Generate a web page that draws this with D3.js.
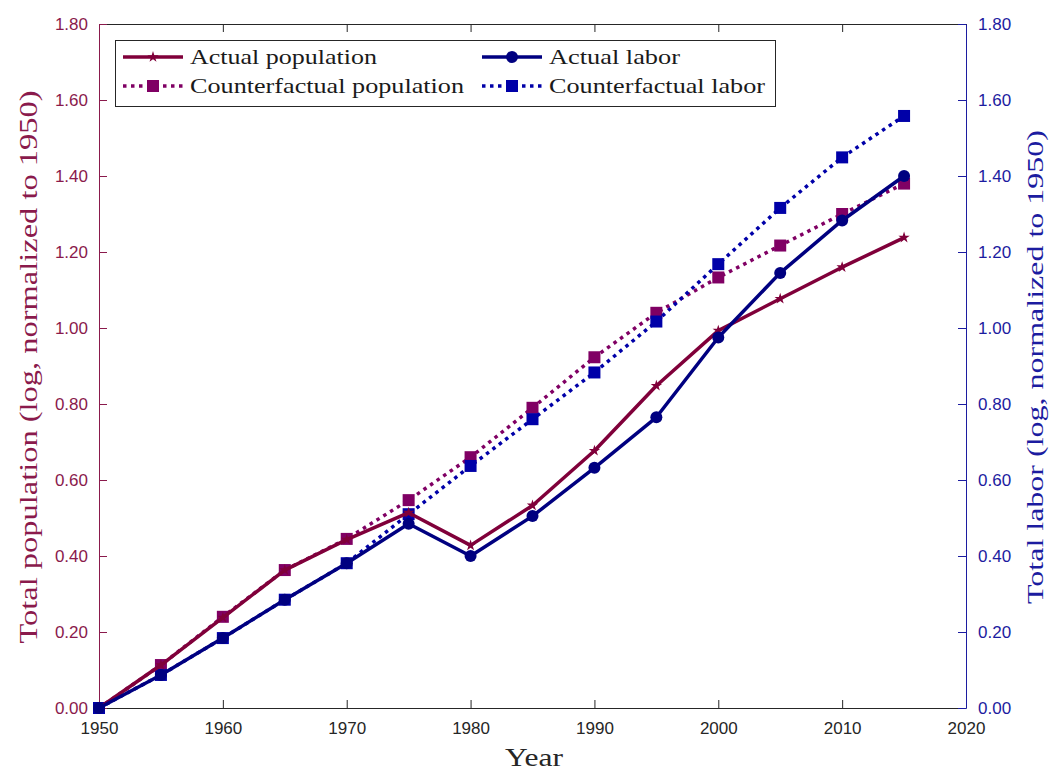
<!DOCTYPE html>
<html>
<head>
<meta charset="utf-8">
<script src="https://cdn.jsdelivr.net/npm/d3@7"></script>
<style>
  html, body { margin: 0; padding: 0; background: #fff; }
  svg { display: block; }
</style>
</head>
<body>
<svg id="chart" width="1050" height="771"></svg>
<script>
// Years on the horizontal axis
const years = [1950, 1955, 1960, 1965, 1970, 1975, 1980, 1985, 1990, 1995, 2000, 2005, 2010, 2015];

// Log totals, normalized to 1950
const actualPopulation = [0, 0.113, 0.238, 0.363, 0.443, 0.514, 0.428, 0.533, 0.677, 0.848, 0.993, 1.077, 1.160, 1.238];
const counterfactualPopulation = [0, 0.113, 0.240, 0.363, 0.445, 0.547, 0.660, 0.790, 0.923, 1.040, 1.133, 1.217, 1.300, 1.380];
const actualLabor = [0, 0.087, 0.184, 0.285, 0.381, 0.485, 0.400, 0.505, 0.632, 0.765, 0.975, 1.145, 1.283, 1.400];
const counterfactualLabor = [0, 0.087, 0.184, 0.285, 0.381, 0.510, 0.637, 0.760, 0.883, 1.017, 1.168, 1.316, 1.449, 1.558];

const xTicks = [1950, 1960, 1970, 1980, 1990, 2000, 2010, 2020];
const yTicks = [0, 0.2, 0.4, 0.6, 0.8, 1.0, 1.2, 1.4, 1.6, 1.8];

const colPop = "#80003a";
const colPopCf = "#800064";
const colLab = "#000080";
const colLabCf = "#0000a8";
const colLeftAxis = "#8a1a4c";
const colRightAxis = "#1c1ca0";

const svg = d3.select("#chart");
const m = { left: 99, right: 966, top: 24, bottom: 708 };

const x = d3.scaleLinear().domain([1950, 2020]).range([m.left, m.right]);
const yL = d3.scaleLinear().domain([0, 1.8]).range([m.bottom, m.top]);
const yR = d3.scaleLinear().domain([0, 1.8]).range([m.bottom, m.top]);

const tickFont = "'Liberation Sans', Arial, Helvetica, sans-serif";
const serif = "'Liberation Serif', 'Times New Roman', serif";

// Bottom axis (ticks point inward)
const gx = svg.append("g").attr("transform", `translate(0,${m.bottom})`)
  .call(d3.axisBottom(x).tickValues(xTicks).tickFormat(d3.format("d")).tickSizeInner(-8).tickSizeOuter(0).tickPadding(14));
gx.selectAll("path, line").attr("stroke", "#262626").attr("stroke-width", 1);
gx.selectAll("text").attr("font-family", tickFont).attr("font-size", 17).attr("fill", "#262626");

// Top axis (ticks only)
const gt = svg.append("g").attr("transform", `translate(0,${m.top})`)
  .call(d3.axisTop(x).tickValues(xTicks).tickFormat("").tickSizeInner(-8).tickSizeOuter(0));
gt.selectAll("path, line").attr("stroke", "#262626").attr("stroke-width", 1);

// Left axis
const gl = svg.append("g").attr("transform", `translate(${m.left},0)`)
  .call(d3.axisLeft(yL).tickValues(yTicks).tickFormat(d3.format(".2f")).tickSizeInner(-8).tickSizeOuter(0).tickPadding(11));
gl.selectAll("path, line").attr("stroke", colLeftAxis).attr("stroke-width", 1);
gl.selectAll("text").attr("font-family", tickFont).attr("font-size", 17).attr("fill", colLeftAxis);

// Right axis
const gr = svg.append("g").attr("transform", `translate(${m.right},0)`)
  .call(d3.axisRight(yR).tickValues(yTicks).tickFormat(d3.format(".2f")).tickSizeInner(-8).tickSizeOuter(0).tickPadding(12));
gr.selectAll("path, line").attr("stroke", colRightAxis).attr("stroke-width", 1);
gr.selectAll("text").attr("font-family", tickFont).attr("font-size", 17).attr("fill", colRightAxis);

// Axis titles
svg.append("text").attr("x", 534).attr("y", 766)
  .attr("text-anchor", "middle").attr("font-family", serif).attr("font-size", 25).attr("fill", "#262626")
  .attr("textLength", 58).attr("lengthAdjust", "spacingAndGlyphs")
  .text("Year");
svg.append("text").attr("transform", `translate(37,367) rotate(-90)`)
  .attr("text-anchor", "middle").attr("font-family", serif).attr("font-size", 25).attr("fill", colLeftAxis)
  .attr("textLength", 553).attr("lengthAdjust", "spacingAndGlyphs")
  .text("Total population (log, normalized to 1950)");
svg.append("text").attr("transform", `translate(1043,367) rotate(-90)`)
  .attr("text-anchor", "middle").attr("font-family", serif).attr("font-size", 24).attr("fill", colRightAxis)
  .attr("textLength", 474).attr("lengthAdjust", "spacingAndGlyphs")
  .text("Total labor (log, normalized to 1950)");

const plot = svg.append("g");

function drawSeries(values, yScale, color, dashed, marker) {
  const pts = years.map((yr, i) => [x(yr), yScale(values[i])]);
  plot.append("path")
    .attr("d", d3.line()(pts))
    .attr("fill", "none")
    .attr("stroke", color)
    .attr("stroke-width", 3.5)
    .attr("stroke-linejoin", "round")
    .attr("stroke-dasharray", dashed ? "3.5,4.5" : null);
  const g = plot.append("g");
  pts.forEach(p => drawMarker(g, p[0], p[1], color, marker));
}

function drawMarker(g, cx, cy, color, marker) {
  if (marker === "square") {
    g.append("rect").attr("x", cx - 6).attr("y", cy - 6).attr("width", 12).attr("height", 12).attr("fill", color);
  } else if (marker === "circle") {
    g.append("circle").attr("cx", cx).attr("cy", cy).attr("r", 6).attr("fill", color);
  } else {
    g.append("path").attr("d", d3.symbol(d3.symbolStar, 40)()).attr("transform", `translate(${cx},${cy})`).attr("fill", color);
  }
}

drawSeries(counterfactualPopulation, yL, colPopCf, true, "square");
drawSeries(counterfactualLabor, yR, colLabCf, true, "square");
drawSeries(actualPopulation, yL, colPop, false, "star");
drawSeries(actualLabor, yR, colLab, false, "circle");

// Legend
const lg = svg.append("g");
lg.append("rect").attr("x", 115.5).attr("y", 40.5).attr("width", 660).attr("height", 66)
  .attr("fill", "#fff").attr("stroke", "#262626").attr("stroke-width", 1);

const legendItems = [
  { label: "Actual population", color: colPop, dashed: false, marker: "star", lx: 123, ly: 57, w: 187 },
  { label: "Counterfactual population", color: colPopCf, dashed: true, marker: "square", lx: 123, ly: 86, w: 274 },
  { label: "Actual labor", color: colLab, dashed: false, marker: "circle", lx: 482, ly: 57, w: 131 },
  { label: "Counterfactual labor", color: colLabCf, dashed: true, marker: "square", lx: 482, ly: 86, w: 216 }
];
legendItems.forEach(it => {
  lg.append("line").attr("x1", it.lx).attr("x2", it.lx + 60).attr("y1", it.ly).attr("y2", it.ly)
    .attr("stroke", it.color).attr("stroke-width", 3.5).attr("stroke-dasharray", it.dashed ? "3.5,4.5" : null);
  drawMarker(lg, it.lx + 30, it.ly, it.color, it.marker);
  lg.append("text").attr("x", it.lx + 67).attr("y", it.ly + 7)
    .attr("font-family", serif).attr("font-size", 21).attr("fill", "#1a1a1a")
    .attr("textLength", it.w).attr("lengthAdjust", "spacingAndGlyphs")
    .text(it.label);
});
</script>
</body>
</html>
